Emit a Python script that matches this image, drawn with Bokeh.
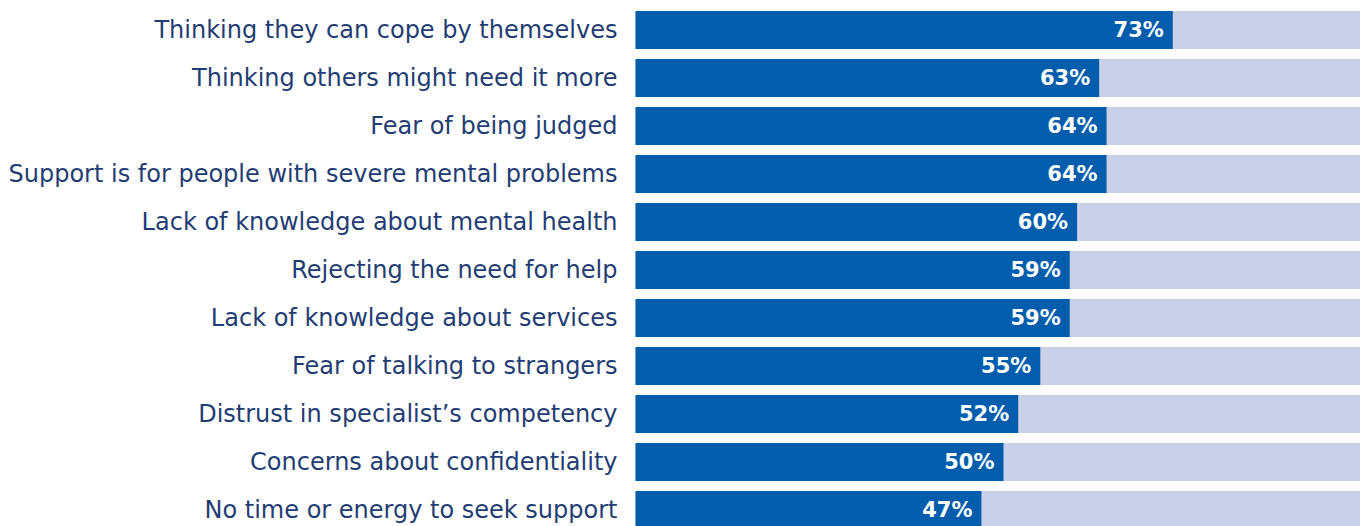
from bokeh.plotting import figure
from bokeh.models import Range1d, ColumnDataSource
from bokeh.core.properties import value
from bokeh.embed import file_html
from bokeh.resources import INLINE

categories = [
    "Thinking they can cope by themselves",
    "Thinking others might need it more",
    "Fear of being judged",
    "Support is for people with severe mental problems",
    "Lack of knowledge about mental health",
    "Rejecting the need for help",
    "Lack of knowledge about services",
    "Fear of talking to strangers",
    "Distrust in specialist\u2019s competency",
    "Concerns about confidentiality",
    "No time or energy to seek support",
]
values = [73, 63, 64, 64, 60, 59, 59, 55, 52, 50, 47]
totals = [100] * len(categories)
value_labels = [f"{v}%" for v in values]

BLUE = "#025eac"
LIGHT = "#c9d0e8"
TEXT = "#1f3d73"

W, H = 1360, 526
px_per_unit = 7.36
x_start = -635 / px_per_unit
x_end = x_start + W / px_per_unit

n = len(categories)
ypos = [n - 1 - i for i in range(n)]
pitch = 48.0
top = (n - 1) + 29.5 / pitch
bottom = top - H / pitch

p = figure(
    width=W, height=H,
    x_range=Range1d(x_start, x_end),
    y_range=Range1d(bottom, top),
    output_backend="svg", toolbar_location=None,
    min_border=0, min_border_left=0, min_border_right=0,
    min_border_top=0, min_border_bottom=0,
)
p.xaxis.visible = False
p.yaxis.visible = False
p.grid.visible = False
p.outline_line_color = None
p.background_fill_color = "white"
p.border_fill_color = "white"

src = ColumnDataSource(dict(cat=categories, y=ypos, val=values, tot=totals, lab=value_labels))

p.hbar(y="y", left=0, right="tot", height=38 / pitch, source=src,
       fill_color=LIGHT, line_color=None)
p.hbar(y="y", left=0, right="val", height=38 / pitch, source=src,
       fill_color=BLUE, line_color=None)

p.text(x=-18 / px_per_unit, y="y", text="cat", source=src,
       text_align="right", text_baseline="middle",
       text_font=value("DejaVu Sans"), text_font_size="24px", text_color=TEXT)

p.text(x="val", y="y", text="lab", source=src, x_offset=-9,
       text_align="right", text_baseline="middle",
       text_font=value("DejaVu Sans"), text_font_size="21px",
       text_font_style="bold", text_color="white")

open("out.html", "w").write(file_html(p, INLINE))
